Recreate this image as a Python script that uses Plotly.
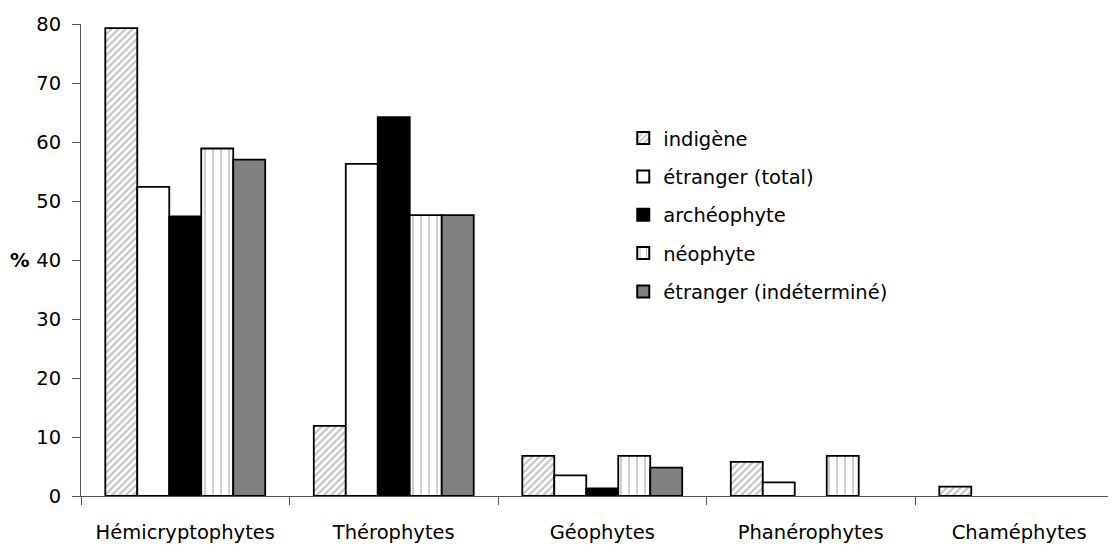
import plotly.graph_objects as go

categories = ["Hémicryptophytes", "Thérophytes", "Géophytes", "Phanérophytes", "Chaméphytes"]
series_names = ["indigène", "étranger (total)", "archéophyte", "néophyte", "étranger (indéterminé)"]
indigene = [79.3, 11.9, 6.8, 5.8, 1.6]
etranger_total = [52.4, 56.3, 3.5, 2.3, None]
archeophyte = [47.4, 64.2, 1.3, None, None]
neophyte = [58.9, 47.6, 6.8, 6.8, None]
etranger_indet = [57.0, 47.6, 4.8, None, None]
y_ticks = [0, 10, 20, 30, 40, 50, 60, 70, 80]

FONT = "DejaVu Sans"
FS = 19.5
xpos = list(range(len(categories)))
line = dict(color="black", width=1.8)

# page body has an 8px margin: compensate
PLOT_W = 1027
CAT_W = 208.5

fig = go.Figure()
fig.add_trace(go.Bar(name=series_names[0], legendgroup="a", x=xpos, y=indigene,
                     marker=dict(color="white", line=line,
                                 pattern=dict(shape="/", fgcolor="#c4c4c4", bgcolor="white",
                                              size=5, solidity=0.45, fillmode="replace"))))
fig.add_trace(go.Bar(name=series_names[1], legendgroup="b", x=xpos, y=etranger_total,
                     marker=dict(color="white", line=line)))
fig.add_trace(go.Bar(name=series_names[2], legendgroup="c", x=xpos, y=archeophyte,
                     marker=dict(color="black", line=line)))
fig.add_trace(go.Bar(name=series_names[3], legendgroup="d", x=xpos, y=neophyte,
                     marker=dict(color="white", line=line,
                                 pattern=dict(shape="|", fgcolor="#bcbcbc", bgcolor="white",
                                              size=8, solidity=0.18, fillmode="replace"))))
fig.add_trace(go.Bar(name=series_names[4], legendgroup="e", x=xpos, y=etranger_indet,
                     marker=dict(color="#808080", line=line)))

n = len(categories)
xr = [-0.5, -0.5 + PLOT_W / CAT_W]

fig.update_layout(
    width=1100, height=536,
    margin=dict(l=73, r=0, t=16, b=41),
    paper_bgcolor="white", plot_bgcolor="white",
    barmode="group", bargap=0.233, bargroupgap=0,
    font=dict(family=FONT, size=FS, color="black"),
    showlegend=True,
    legend=dict(x=0.528, y=0.799, xanchor="left", yanchor="top",
                bgcolor="rgba(0,0,0,0)", font=dict(family=FONT, size=FS),
                traceorder="grouped", tracegroupgap=10, itemsizing="constant"),
    xaxis=dict(range=xr, tickmode="array", tickvals=xpos, ticktext=categories,
               ticks="", showline=True, linecolor="#555555", linewidth=1,
               showgrid=False, zeroline=False, ticklabelstandoff=19,
               tickfont=dict(family=FONT, size=FS)),
    xaxis2=dict(range=xr, overlaying="x", side="bottom", anchor="y",
                tickmode="array", tickvals=[i - 0.5 for i in range(n + 1)],
                ticks="outside", ticklen=8, tickcolor="#555555", tickwidth=1,
                showticklabels=False, showgrid=False, zeroline=False, showline=False),
    yaxis=dict(range=[0, 80], tickmode="array", tickvals=y_ticks,
               ticks="outside", ticklen=8, tickcolor="#555555", tickwidth=1,
               showline=True, linecolor="#555555", linewidth=1,
               showgrid=False, zeroline=False, ticklabelstandoff=7,
               tickfont=dict(family=FONT, size=FS)),
)
fig.add_trace(go.Scatter(x=[xr[0]], y=[0], xaxis="x2", mode="markers",
                         marker=dict(opacity=0), showlegend=False, hoverinfo="skip"))

fig.add_annotation(text="<b>%</b>", xref="paper", yref="y", x=(19.5 - 81) / PLOT_W, y=40,
                   xanchor="center", yanchor="middle", showarrow=False,
                   font=dict(family=FONT, size=FS, color="black"))

fig.write_html("out.html")
